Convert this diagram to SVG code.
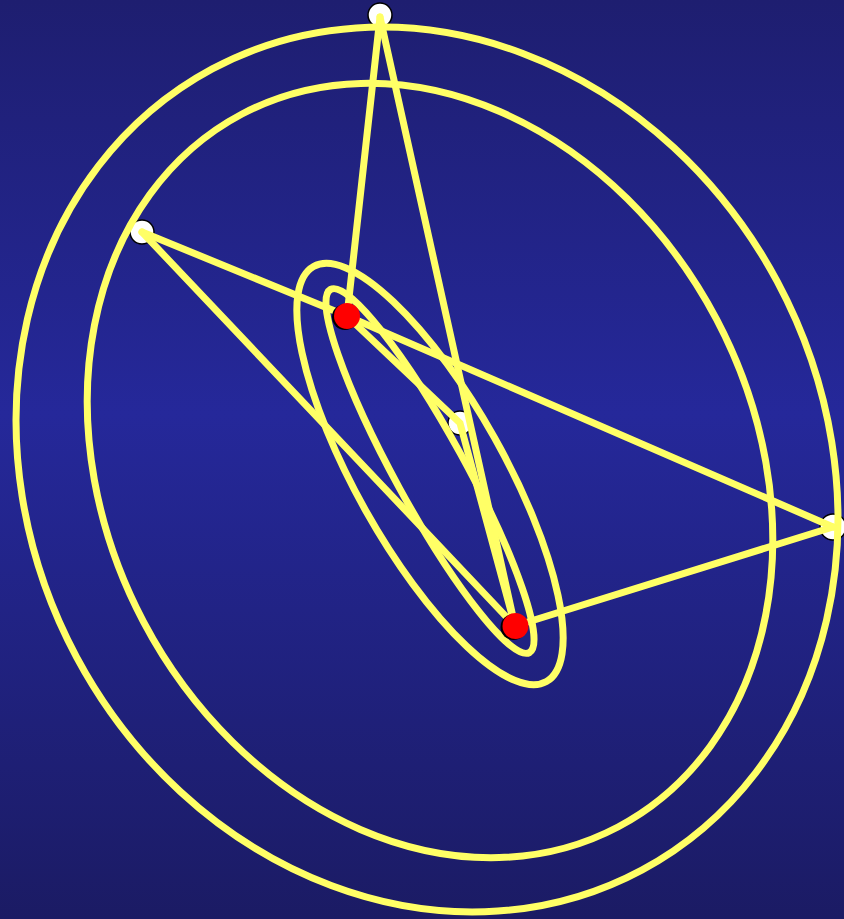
<svg xmlns="http://www.w3.org/2000/svg" width="844" height="919" viewBox="0 0 844 919">
<defs>
<linearGradient id="bg" x1="0" y1="0" x2="0" y2="1">
<stop offset="0" stop-color="#1e1e70"/>
<stop offset="0.45" stop-color="#25289a"/>
<stop offset="1" stop-color="#1b1b64"/>
</linearGradient>
<style>
.ell{fill:none;stroke:#ffff66;stroke-width:7}
.ln{stroke:#ffff66;stroke-width:7;stroke-linecap:round;fill:none}
.wn{fill:#ffffff;stroke:#000000;stroke-width:1.5}
.rs{fill:#000000}
.rn{fill:#ff0000}
</style>
</defs>
<rect x="0" y="0" width="844" height="919" fill="url(#bg)"/>
<g id="white-nodes">
<g id="node-top"><circle class="wn" cx="380" cy="15" r="12"/></g>
<g id="node-left"><circle class="wn" cx="142" cy="232" r="12"/></g>
<g id="node-right"><circle class="wn" cx="833" cy="527" r="13"/></g>
<g id="node-center"><circle class="wn" cx="460" cy="423" r="12"/></g>
</g>
<g id="ellipses">
<ellipse id="ellipse-outer" class="ell" cx="427" cy="469.5" rx="397.5" ry="454.5" transform="rotate(-28.2 427 469.5)"/>
<ellipse id="ellipse-second" class="ell" cx="430" cy="470.5" rx="324" ry="403" transform="rotate(-27.8 430 470.5)"/>
<ellipse id="ellipse-middle" class="ell" cx="430" cy="474" rx="74" ry="238" transform="rotate(-29.3 430 474)"/>
<ellipse id="ellipse-inner" class="ell" cx="430" cy="471" rx="35" ry="207" transform="rotate(-28.7 430 471)"/>
</g>
<g id="connectors">
<line class="ln" x1="380" y1="17" x2="347" y2="316"/>
<line class="ln" x1="380" y1="17" x2="515" y2="626"/>
<line class="ln" x1="142" y1="232" x2="347" y2="316"/>
<line class="ln" x1="347" y1="316" x2="833" y2="527"/>
<line class="ln" x1="142" y1="232" x2="515" y2="626"/>
<line class="ln" x1="515" y1="626" x2="833" y2="527"/>
<polyline class="ln" points="347,316 460,423 515,626"/>
</g>
<g id="red-nodes">
<g id="node-red1"><circle class="rs" cx="345" cy="317" r="13"/><circle class="rn" cx="347" cy="316" r="13"/></g>
<g id="node-red2"><circle class="rs" cx="513.5" cy="627" r="13"/><circle class="rn" cx="515.5" cy="626" r="13"/></g>
</g>
</svg>
